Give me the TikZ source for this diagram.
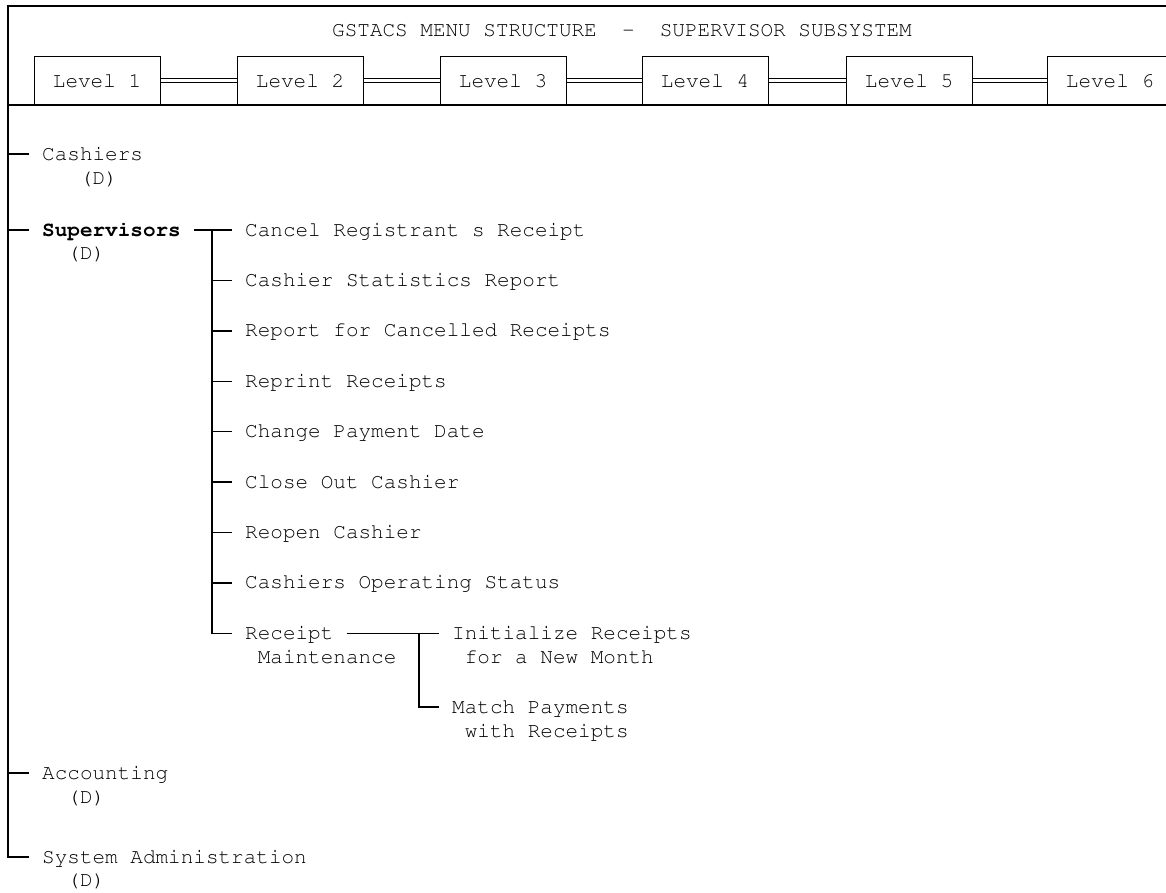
\documentclass[tikz,border=0pt]{standalone}
\usepackage[T1]{fontenc}
\usepackage{courier}
\renewcommand{\familydefault}{\ttdefault}
\begin{document}
\begin{tikzpicture}[x=1pt,y=-1pt,
  every node/.style={font=\fontsize{21}{24}\selectfont},
  lvl/.style={draw, line width=1pt, minimum width=126pt, minimum height=49pt, inner sep=0pt},
  item/.style={anchor=west, inner xsep=13pt, inner ysep=0pt, text height=16pt, text depth=4pt},
  tree/.style={line width=1.4pt},
  frame/.style={line width=1.1pt},
  link/.style={double, double distance=3pt, line width=0.9pt}]
\path[use as bounding box] (0,0) rectangle (1166,892);
\clip (0,0) rectangle (1166,892);

% header band
\draw[frame] (8,6) rectangle (1180,105);
\node (title) at (622,30) {GSTACS MENU STRUCTURE\ \ -\ \ SUPERVISOR SUBSYSTEM};

% level boxes
\node[lvl] (l1) at (97,80.5)   {Level 1};
\node[lvl] (l2) at (300,80.5)  {Level 2};
\node[lvl] (l3) at (503,80.5)  {Level 3};
\node[lvl] (l4) at (705,80.5)  {Level 4};
\node[lvl] (l5) at (909,80.5)  {Level 5};
\node[lvl] (l6) at (1110,80.5) {Level 6};
\foreach \a/\b in {l1/l2,l2/l3,l3/l4,l4/l5,l5/l6}
  \draw[link] (\a.east) -- (\b.west);

% first-level menu
\coordinate (trunk) at (8,105);
\node[item] (cash)  at (29,154) {Cashiers};
\node[item] (cashD) at (66.8,178) {(D)};
\node[item] (sup)   at (29,230) {\bfseries Supervisors};
\node[item] (supD)  at (54.2,253) {(D)};
\node[item] (acct)  at (29,773) {Accounting};
\node[item] (acctD) at (54.2,797) {(D)};
\node[item] (sys)   at (29,857) {System Administration};
\node[item] (sysD)  at (54.2,880) {(D)};

\draw[tree] (trunk) |- (sys.west);
\foreach \n in {cash,sup,acct}
  \draw[tree] (trunk |- \n.west) -- (\n.west);

% supervisor options
\node[item] (cancel)  at (232,230)   {Cancel Registrant s Receipt};
\node[item] (stats)   at (232,280.4) {Cashier Statistics Report};
\node[item] (repcan)  at (232,330.8) {Report for Cancelled Receipts};
\node[item] (reprint) at (232,381.2) {Reprint Receipts};
\node[item] (change)  at (232,431.6) {Change Payment Date};
\node[item] (close)   at (232,482)   {Close Out Cashier};
\node[item] (reopen)  at (232,532.4) {Reopen Cashier};
\node[item] (opstat)  at (232,582.8) {Cashiers Operating Status};
\node[item] (rcpt)    at (232,633.2) {Receipt};
\node[item] (rcptB)   at (244.6,657) {Maintenance};

\coordinate (supbus) at (212,230);
\draw[tree] (sup.east) -- (cancel.west);
\draw[tree] (supbus) |- (rcpt.west);
\foreach \n in {stats,repcan,reprint,change,close,reopen,opstat}
  \draw[tree] (supbus |- \n.west) -- (\n.west);

% receipt maintenance options
\node[item] (init)   at (439,633.2) {Initialize Receipts};
\node[item] (initB)  at (451.6,657) {for a New Month};
\node[item] (match)  at (439,707)   {Match Payments};
\node[item] (matchB) at (451.6,731) {with Receipts};

\coordinate (rcptbus) at (419,633.2);
\draw[tree] (rcpt.east) -- (init.west);
\draw[tree] (rcptbus) |- (match.west);
\end{tikzpicture}
\end{document}
